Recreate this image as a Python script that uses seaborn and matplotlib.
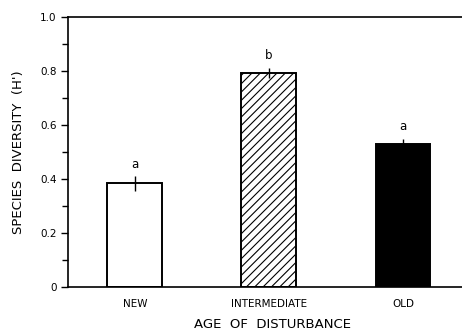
import matplotlib
matplotlib.use("Agg")
import matplotlib.pyplot as plt
import seaborn as sns
import numpy as np
import pandas as pd

categories = ["NEW", "INTERMEDIATE", "OLD"]
diversity = [0.384, 0.793, 0.528]
errors = [0.027, 0.02, 0.022]
letters = ["a", "b", "a"]
yticks = [0, 0.2, 0.4, 0.6, 0.8, 1.0]
yticklabels = ["0", "0.2", "0.4", "0.6", "0.8", "1.0"]

sns.set_theme(style="white")
plt.rcParams['font.family'] = ['DejaVu Sans']
plt.rcParams['hatch.linewidth'] = 0.8
plt.rcParams['text.color'] = 'black'
plt.rcParams['axes.labelcolor'] = 'black'
plt.rcParams['xtick.color'] = 'black'
plt.rcParams['ytick.color'] = 'black'

df = pd.DataFrame({"age": categories, "h": diversity})

fig = plt.figure(figsize=(4.62, 3.36), dpi=100)
ax = fig.add_axes([0.147, 0.146, 0.853, 0.803])

sns.barplot(data=df, x="age", y="h", order=categories, ax=ax,
            palette=["white", "white", "black"], hue="age", legend=False,
            width=0.41, edgecolor="black", linewidth=1.4, errorbar=None)
ax.patches[1].set_hatch("////")

xpos = np.arange(len(categories))
ax.errorbar(xpos, diversity, yerr=errors, fmt="none", ecolor="black",
            elinewidth=1.0, capsize=0)
for x, v, e, l in zip(xpos, diversity, errors, letters):
    ax.text(x, v + e + 0.02, l, ha="center", va="bottom", fontsize=8.5)

ax.set_ylim(0, 1.0)
ax.set_xlim(-0.5, 2.44)
ax.set_yticks(yticks)
ax.set_yticklabels(yticklabels)
ax.set_yticks(np.arange(0.1, 1.0, 0.2), minor=True)
ax.tick_params(axis="y", which="major", left=True, length=5, width=1,
               labelsize=7.5, pad=3)
ax.tick_params(axis="y", which="minor", left=True, length=4, width=1)
ax.tick_params(axis="x", bottom=False, labelsize=7.5, pad=3)

for s in ["left", "top", "bottom"]:
    ax.spines[s].set_visible(True)
    ax.spines[s].set_color("black")
    ax.spines[s].set_linewidth(1.2)
ax.spines["right"].set_visible(False)

ax.set_xlabel("AGE  OF  DISTURBANCE", fontsize=9.5)
ax.xaxis.set_label_coords(0.52, -0.115)
ax.set_ylabel("SPECIES  DIVERSITY  (H')", fontsize=9.5, labelpad=11)

fig.savefig("out.png", dpi=100)
